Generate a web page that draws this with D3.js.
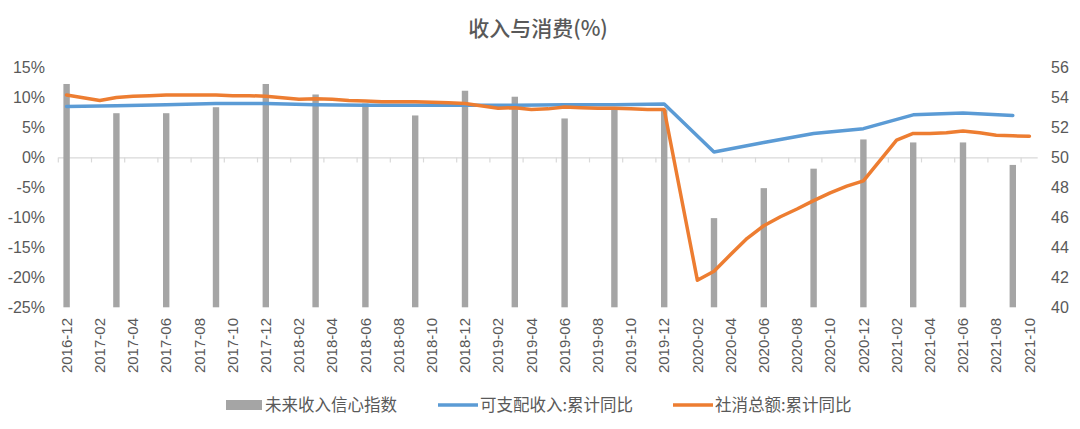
<!DOCTYPE html>
<html>
<head>
<meta charset="utf-8">
<script src="https://cdn.jsdelivr.net/npm/d3@7/dist/d3.min.js"></script>
<style>
  html, body { margin: 0; padding: 0; background: #fff; }
  svg text { fill: #595959; font-family: "Liberation Sans", Arial, "Noto Sans CJK SC", sans-serif; }
  .cjk { font-family: "Noto Sans CJK SC", "Liberation Sans", sans-serif; }
</style>
</head>
<body>
<svg id="chart" width="1080" height="429"></svg>
<script>
// categories: one per month
var months = [
  "2016-12",
  "2017-01","2017-02","2017-03","2017-04","2017-05","2017-06","2017-07","2017-08","2017-09","2017-10","2017-11","2017-12",
  "2018-01","2018-02","2018-03","2018-04","2018-05","2018-06","2018-07","2018-08","2018-09","2018-10","2018-11","2018-12",
  "2019-01","2019-02","2019-03","2019-04","2019-05","2019-06","2019-07","2019-08","2019-09","2019-10","2019-11","2019-12",
  "2020-01","2020-02","2020-03","2020-04","2020-05","2020-06","2020-07","2020-08","2020-09","2020-10","2020-11","2020-12",
  "2021-01","2021-02","2021-03","2021-04","2021-05","2021-06","2021-07","2021-08","2021-09","2021-10"
];

// quarterly series: future income confidence index (right axis) and disposable income yoy (left axis)
var quarters = ["2016-12","2017-03","2017-06","2017-09","2017-12","2018-03","2018-06","2018-09","2018-12",
  "2019-03","2019-06","2019-09","2019-12","2020-03","2020-06","2020-09","2020-12","2021-03","2021-06","2021-09"];
var confidence = [54.9, 52.95, 52.95, 53.35, 54.9, 54.2, 53.6, 52.8, 54.45,
  54.05, 52.6, 53.3, 53.2, 45.95, 47.95, 49.25, 51.2, 51.0, 51.0, 49.5];
var income = [8.5, 8.6, 8.8, 9.0, 9.0, 8.8, 8.7, 8.7, 8.7,
  8.7, 8.8, 8.8, 8.9, 0.9, 2.5, 4.0, 4.8, 7.1, 7.4, 7.0];

// monthly retail sales cumulative yoy (no January figures)
var retailMonths = ["2016-12",
  "2017-02","2017-03","2017-04","2017-05","2017-06","2017-07","2017-08","2017-09","2017-10","2017-11","2017-12",
  "2018-02","2018-03","2018-04","2018-05","2018-06","2018-07","2018-08","2018-09","2018-10","2018-11","2018-12",
  "2019-02","2019-03","2019-04","2019-05","2019-06","2019-07","2019-08","2019-09","2019-10","2019-11","2019-12",
  "2020-02","2020-03","2020-04","2020-05","2020-06","2020-07","2020-08","2020-09","2020-10","2020-11","2020-12",
  "2021-02","2021-03","2021-04","2021-05","2021-06","2021-07","2021-08","2021-09","2021-10"];
var retail = [10.4,
  9.5, 10.0, 10.2, 10.3, 10.4, 10.4, 10.4, 10.4, 10.3, 10.3, 10.2,
  9.7, 9.8, 9.7, 9.5, 9.4, 9.3, 9.3, 9.3, 9.2, 9.1, 9.0,
  8.2, 8.3, 8.0, 8.1, 8.4, 8.3, 8.2, 8.2, 8.1, 8.0, 8.0,
  -20.5, -19.0, -16.2, -13.5, -11.4, -9.9, -8.6, -7.2, -5.9, -4.8, -3.9,
  2.9, 4.0, 4.0, 4.1, 4.4, 4.1, 3.7, 3.6, 3.55];

var leftTicks = [15, 10, 5, 0, -5, -10, -15, -20, -25];
var rightTicks = [56, 54, 52, 50, 48, 46, 44, 42, 40];

var legendItems = [
  {name: "未来收入信心指数", type: "bar", color: "#a5a5a5", x: 226},
  {name: "可支配收入:累计同比", type: "line", color: "#5b9bd5", x: 438},
  {name: "社消总额:累计同比", type: "line", color: "#ed7d31", x: 673}
];

var svg = d3.select("#chart");

// scales
var x = d3.scaleBand().domain(months).range([58.3, 1037.7]).padding(0),
    yL = d3.scaleLinear().domain([-25, 15]).range([307.3, 67.5]),
    yR = d3.scaleLinear().domain([40, 56]).range([307.3, 67.5]);
var cx = function (m) { return x(m) + x.bandwidth() / 2; };

// title
svg.append("text")
  .attr("class", "cjk")
  .attr("x", 538).attr("y", 36)
  .attr("text-anchor", "middle")
  .style("font-size", "21px")
  .style("font-weight", 500)
  .text("收入与消费(%)");

// left axis labels
var left = d3.axisLeft(yL).tickValues(leftTicks).tickSize(0).tickPadding(0)
  .tickFormat(function (d) { return d + "%"; });
svg.append("g").attr("transform", "translate(45,0)").call(left)
  .call(function (g) { g.select(".domain").remove(); })
  .selectAll("text").style("font-size", "16px").attr("fill", "#595959");

// right axis labels
var right = d3.axisRight(yR).tickValues(rightTicks).tickSize(0).tickPadding(0);
svg.append("g").attr("transform", "translate(1051,0)").call(right)
  .call(function (g) { g.select(".domain").remove(); })
  .selectAll("text").style("font-size", "16px").attr("fill", "#595959");

// zero line with tick marks every two months
var zeroAxis = d3.axisBottom(x)
  .tickValues(months.filter(function (d, i) { return i % 2 === 0; }))
  .tickSize(5).tickFormat("");
var zg = svg.append("g").attr("transform", "translate(0," + yL(0) + ")").call(zeroAxis);
zg.select(".domain").attr("stroke", "#d9d9d9").attr("stroke-width", 1.2)
  .attr("d", "M58.3,0.5H1037.7");
zg.selectAll(".tick").attr("transform", function (d) { return "translate(" + x(d) + ",0)"; });
zg.selectAll(".tick line").attr("stroke", "#d9d9d9").attr("stroke-width", 1.2);

// bottom category labels
var bottom = d3.axisBottom(x)
  .tickValues(months.filter(function (d, i) { return i % 2 === 0; }))
  .tickSize(0).tickPadding(0);
svg.append("g").attr("transform", "translate(0,318)").call(bottom)
  .call(function (g) { g.select(".domain").remove(); })
  .selectAll("text")
  .style("font-size", "15px").attr("fill", "#595959")
  .attr("text-anchor", "end")
  .attr("dy", "0.35em")
  .attr("transform", "rotate(-90)")
  .attr("x", 0).attr("y", 0);

// bars (right axis)
var barW = 6.4;
svg.append("g").selectAll("rect")
  .data(quarters)
  .join("rect")
  .attr("x", function (d) { return cx(d) - barW / 2; })
  .attr("width", barW)
  .attr("y", function (d, i) { return yR(confidence[i]); })
  .attr("height", function (d, i) { return yR(40) - yR(confidence[i]); })
  .attr("fill", "#a5a5a5");

// lines (left axis)
var line = d3.line()
  .x(function (d) { return cx(d[0]); })
  .y(function (d) { return yL(d[1]); });

svg.append("path")
  .datum(d3.zip(quarters, income))
  .attr("d", line)
  .attr("fill", "none").attr("stroke", "#5b9bd5")
  .attr("stroke-width", 3.5).attr("stroke-linejoin", "round").attr("stroke-linecap", "round");

svg.append("path")
  .datum(d3.zip(retailMonths, retail))
  .attr("d", line)
  .attr("fill", "none").attr("stroke", "#ed7d31")
  .attr("stroke-width", 3.5).attr("stroke-linejoin", "round").attr("stroke-linecap", "round");

// legend
var lg = svg.append("g").selectAll("g").data(legendItems).join("g")
  .attr("transform", function (d) { return "translate(" + d.x + ",405)"; });
lg.filter(function (d) { return d.type === "bar"; }).append("rect")
  .attr("x", 0).attr("y", -5).attr("width", 36).attr("height", 10)
  .attr("fill", function (d) { return d.color; });
lg.filter(function (d) { return d.type === "line"; }).append("line")
  .attr("x1", 0).attr("x2", 40).attr("y1", 0).attr("y2", 0)
  .attr("stroke", function (d) { return d.color; }).attr("stroke-width", 3.5);
lg.append("text")
  .attr("class", "cjk")
  .attr("x", function (d) { return d.type === "bar" ? 39 : 42; })
  .attr("dy", "0.35em")
  .style("font-size", "16.5px")
  .text(function (d) { return d.name; });
</script>
</body>
</html>
